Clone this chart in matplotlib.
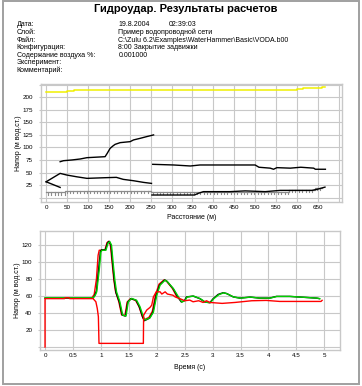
import matplotlib
matplotlib.use("Agg")
import matplotlib.pyplot as plt
from matplotlib import patheffects
from matplotlib.patches import Rectangle

plt.rcParams["font.family"] = ["Liberation Sans", "DejaVu Sans"]

# ---- header info ----
title = "Гидроудар. Результаты расчетов"
info_labels = ["Дата:", "Слой:", "Файл:", "Конфигурация:",
               "Содержание воздуха %:", "Эксперимент:", "Комментарий:"]
info_values = ["19.8.2004", "Пример водопроводной сети",
               "C:\\Zulu 6.2\\Examples\\WaterHammer\\Basic\\VODA.b00",
               "8:00 Закрытие задвижки", "0.001000", "", ""]
info_time = "02:39:03"

# ---- top chart: head along the route (distance, m) ----
yellow_x = [0, 49, 67, 600, 614, 660, 667]
yellow_y = [210, 212, 213.5, 215.5, 218, 220, 220]

pipe_a_x = [33.5, 41.5, 62, 81.4, 97.4, 141, 146, 153, 160, 165, 177, 201, 209, 225, 241, 257]
pipe_a_y = [71.5, 73.5, 75, 76.9, 79.5, 81.5, 88, 98, 103, 106, 109.4, 111.4, 114.8, 118, 121.5, 124.8]
pipe_b_x = [0, 33.5, 49.5, 73.4, 97.6, 141, 168, 184.5, 209, 233, 252]
pipe_b_y = [31.6, 48.3, 45, 41.5, 38.4, 39.7, 40.4, 36.4, 33.7, 30.4, 28.4]
pipe_c_x = [0, 33.5]
pipe_c_y = [31.6, 20.4]
pipe_d_x = [255, 305, 345, 368, 500, 509, 536, 544, 552, 584, 609, 640, 644, 668]
pipe_d_y = [66.3, 65, 63, 65, 65, 60.5, 58.7, 56.5, 59.7, 58.7, 60.5, 58.7, 56.5, 56.5]
pipe_e_x = [253, 355, 362, 376, 440, 476, 524, 560, 636, 650, 667]
pipe_e_y = [5.3, 5.3, 8, 12, 12, 13.5, 12, 14.5, 14.5, 17, 21]

ground_x = [0, 45, 250, 580, 643, 660]
ground_y = [10.5, 13, 11, 16, 20, 20]

dist_ticks = list(range(0, 701, 50))
dist_labels = [str(v) for v in range(0, 651, 50)] + [""]
head_ticks = list(range(0, 226, 25))
head_labels = [""] + [str(v) for v in range(25, 201, 25)] + [""]

# ---- bottom chart: head vs time ----
green_t = [0, 0.86, 0.9, 0.925, 0.97, 1.0, 1.02, 1.09, 1.13, 1.16, 1.19, 1.22, 1.25, 1.28,
           1.34, 1.39, 1.45, 1.49, 1.55, 1.64, 1.70, 1.76, 1.79, 1.88, 1.94, 2.0, 2.06, 2.15,
           2.19, 2.30, 2.39, 2.45, 2.51, 2.54, 2.66, 2.78, 2.87, 2.96, 3.02, 3.11, 3.20, 3.26,
           3.38, 3.50, 3.68, 3.85, 4.03, 4.15, 4.39, 4.87, 4.92]
green_h = [58, 58, 61, 65, 90.6, 112, 114, 114, 122.7, 124, 120, 98.5, 78.8, 65,
           53.3, 37.6, 36.5, 53.3, 57.3, 55, 47.5, 35.7, 31.8, 34.5, 41, 61, 73, 78.8,
           77, 68.6, 58.8, 52.9, 54.9, 58.8, 60, 56.9, 52.9, 52.2, 56.9, 61.6, 63.9, 62.7,
           58.8, 57.6, 58.8, 57.6, 57.6, 59.6, 59.6, 57.6, 56.9]

black_t = [0, 0.86, 0.89, 0.92, 0.96, 0.99, 1.01, 1.08, 1.12, 1.15, 1.18, 1.21, 1.24, 1.27,
           1.33, 1.38, 1.44, 1.48, 1.54, 1.63, 1.69, 1.75, 1.78, 1.87, 1.93, 1.99, 2.05, 2.14,
           2.18, 2.29, 2.38, 2.44, 2.5, 2.53, 2.65, 2.77, 2.86, 2.95, 3.01, 3.1, 3.19, 3.25,
           3.37, 3.49, 3.67, 3.84, 4.02, 4.14, 4.38, 4.86, 4.91]
black_h = [57.5, 57.5, 61, 66, 92, 112, 114.5, 114.5, 123, 124.5, 120, 98, 78, 64,
           53, 37.6, 36.5, 53, 57, 55, 47, 35, 31, 34, 41, 61, 73, 79,
           77.5, 69, 58.5, 53, 55, 59, 60, 57, 53, 52.2, 57, 62, 64, 63,
           59, 57.6, 58.8, 57.6, 57.6, 59.6, 59.6, 57.6, 57]

red2_t = [0.84, 0.88, 0.92, 0.95, 0.97, 1.07, 1.11, 1.14, 1.17, 1.2, 1.23, 1.26, 1.32, 1.37,
          1.43, 1.47, 1.53, 1.62, 1.68, 1.74, 1.77, 1.86, 1.92, 1.98, 2.04, 2.13, 2.17, 2.28, 2.36]
red2_h = [58, 62, 80, 108, 114, 114, 123, 124.5, 120, 100, 80, 66, 53.5, 38,
          37, 53, 57, 55, 48, 36, 32, 35, 42, 62, 74, 79, 78, 69, 59]

red1_t = [0, 0, 0.35, 0.36, 0.43, 0.44, 0.86, 0.91, 0.935, 0.955, 0.966, 1.76, 1.765, 1.82,
          1.88, 1.91, 1.94, 1.99, 2.06, 2.09, 2.15, 2.19, 2.29, 2.33, 2.45, 2.5, 2.59, 2.65,
          2.75, 2.83, 2.89, 2.95, 3.17, 3.4, 3.7, 3.96, 4.2, 4.94, 4.96]
red1_h = [0, 57, 57, 58, 58, 57, 57, 53.3, 45.5, 35.7, 4.3, 4.3, 37.6, 43.5,
          46.7, 49.4, 59, 65, 65, 62.4, 65, 62.4, 61, 59, 56, 54.5, 55.3, 53.3,
          54.5, 52.5, 54.5, 52.5, 51.4, 52.5, 54.5, 54.9, 53.7, 53.7, 55]

time_ticks = [i * 0.5 for i in range(11)]
time_labels = ["0", "0.5", "1", "1.5", "2", "2.5", "3", "3.5", "4", "4.5", "5"]
head2_ticks = list(range(0, 121, 20))
head2_labels = [""] + [str(v) for v in range(20, 121, 20)]

W, H = 362, 386
GRID = "#c8c8c8"

fig = plt.figure(figsize=(W / 100, H / 100), dpi=100)
fig.patch.set_facecolor("white")


def px_axes(left, top, right, bottom):
    return fig.add_axes([left / W, (H - bottom) / H, (right - left) / W, (bottom - top) / H])


def style(ax):
    for s in ax.spines.values():
        s.set_color(GRID)
        s.set_linewidth(1.0)
    ax.grid(True, color=GRID, linewidth=0.8)
    ax.set_axisbelow(True)
    ax.tick_params(axis="x", length=0, pad=2.5, labelsize=4.5)
    ax.tick_params(axis="y", length=1.5, color=GRID, pad=4, labelsize=4.5)


# outer frame
fig.add_artist(Rectangle((2.5 / W, (H - 383.5) / H), (359 - 2.5) / W, (383.5 - 1) / H,
                         transform=fig.transFigure, fill=False,
                         edgecolor="#a0a0a0", linewidth=1.4))

fig.text(186 / W, 1 - 9.5 / H, title, ha="center", va="center",
         fontsize=8, fontweight="bold")
for i, (lab, val) in enumerate(zip(info_labels, info_values)):
    y = 1 - (25 + 7.6 * i) / H
    fig.text(16.7 / W, y, lab, ha="left", va="center", fontsize=5)
    if val:
        fig.text(118.3 / W, y, val, ha="left", va="center", fontsize=5)
fig.text(168.3 / W, 1 - 25 / H, info_time, ha="left", va="center", fontsize=5)

# ---- top chart ----
ax1 = px_axes(40.7, 84, 341.7, 201.7)
style(ax1)
ax1.plot(ground_x, ground_y, color="#8c8c8c", lw=0.9, drawstyle="steps-post",
         path_effects=[patheffects.withTickedStroke(angle=-90, spacing=2.4, length=0.7,
                                                    linewidth=0.8)])
ax1.plot(yellow_x, yellow_y, color="#f0f000", lw=1.1, drawstyle="steps-post")
for px, py in [(pipe_a_x, pipe_a_y), (pipe_b_x, pipe_b_y), (pipe_c_x, pipe_c_y),
               (pipe_d_x, pipe_d_y), (pipe_e_x, pipe_e_y)]:
    ax1.plot(px, py, color="black", lw=1.0)
ax1.set_xlim(-13, 707)
ax1.set_ylim(-8, 226)
ax1.set_xticks(dist_ticks)
ax1.set_xticklabels(dist_labels)
ax1.set_yticks(head_ticks)
ax1.set_yticklabels(head_labels)
ax1.set_xlabel("Расстояние (м)", fontsize=5, labelpad=3)
ax1.set_ylabel("Напор (м вод.ст.)", fontsize=5, labelpad=0.5)

# ---- bottom chart ----
ax2 = px_axes(40, 230.7, 340, 350)
style(ax2)
ax2.plot(red2_t, red2_h, color="red", lw=1.0)
ax2.plot(black_t, black_h, color="black", lw=1.0)
ax2.plot(green_t, green_h, color="#00d000", lw=1.0)
ax2.plot(red1_t, red1_h, color="red", lw=1.0)
ax2.set_xlim(-0.09, 5.28)
ax2.set_ylim(-3.5, 137)
ax2.set_xticks(time_ticks)
ax2.set_xticklabels(time_labels)
ax2.set_yticks(head2_ticks)
ax2.set_yticklabels(head2_labels)
ax2.set_xlabel("Время (с)", fontsize=5, labelpad=4)
ax2.set_ylabel("Напор (м вод.ст.)", fontsize=5, labelpad=0.5)

fig.savefig("out.png", dpi=100)
